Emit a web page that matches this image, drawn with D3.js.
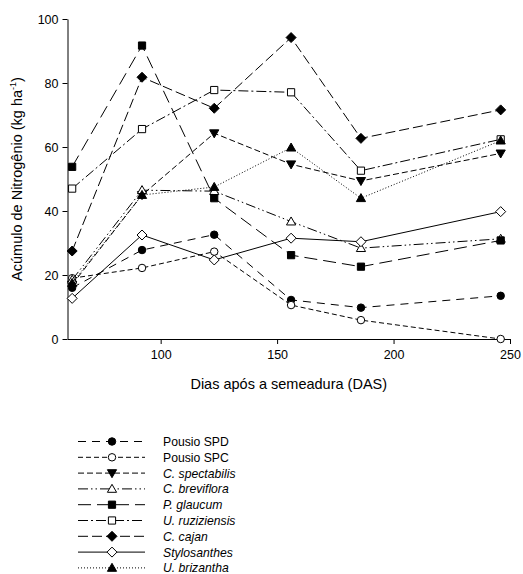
<!DOCTYPE html>
<html>
<head>
<meta charset="utf-8">
<script src="https://cdn.jsdelivr.net/npm/d3@7"></script>
<style>
  body { margin: 0; background: #fff; }
  text { font-family: "Liberation Sans", Arial, sans-serif; }
</style>
</head>
<body>
<div id="chart"></div>
<script>
// dias apos a semeadura
var das = [62, 92, 123, 156, 186, 246];

var seriesNames = ["Pousio SPD", "Pousio SPC", "C. spectabilis", "C. breviflora", "P. glaucum",
                   "U. ruziziensis", "C. cajan", "Stylosanthes", "U. brizantha"];
var pousioSPD     = [16, 27.8, 32.6, 12.2, 9.8, 13.5];
var pousioSPC     = [19, 22.2, 27.3, 10.6, 5.9, 0];
var spectabilis   = [17, 45, 64.3, 54.6, 49.4, 58];
var breviflora    = [18.5, 46.5, 46.2, 36.7, 28.4, 31.3];
var glaucum       = [53.8, 91.7, 44, 26.2, 22.6, 30.8];
var ruziziensis   = [47, 65.6, 77.8, 77.1, 52.6, 62.4];
var cajan         = [27.5, 81.8, 72.1, 94.2, 62.7, 71.6];
var stylosanthes  = [12.7, 32.5, 24.7, 31.5, 30.4, 39.8];
var brizantha     = [17.5, 45, 47.5, 59.8, 44, 62];

var xTicks = [100, 150, 200, 250];
var yTicks = [0, 20, 40, 60, 80, 100];

var values = [pousioSPD, pousioSPC, spectabilis, breviflora, glaucum, ruziziensis, cajan, stylosanthes, brizantha];
// symbol, filled, dasharray
var styles = [
  {sym: "circle",   fill: true,  dash: "8,6"},
  {sym: "circle",   fill: false, dash: "5,3"},
  {sym: "tridown",  fill: true,  dash: "6,3"},
  {sym: "triangle", fill: false, dash: "10,3,1.5,3,1.5,3"},
  {sym: "square",   fill: true,  dash: "13,6"},
  {sym: "square",   fill: false, dash: "10,3,2,3"},
  {sym: "diamond",  fill: true,  dash: "10,4"},
  {sym: "diamond",  fill: false, dash: null},
  {sym: "triangle", fill: true,  dash: "1,2"}
];
var italic = [false, false, true, true, true, true, true, true, true];

var series = seriesNames.map(function(n, i) {
  return {name: n, style: styles[i], italic: italic[i],
          pts: das.map(function(d, j) { return {x: d, y: values[i][j]}; })};
});

var W = 523, H = 574;
var margin = {top: 19, left: 67.5, right: 13, bottom: 235};

var svg = d3.select("#chart").append("svg")
    .attr("width", W).attr("height", H);

var x = d3.scaleLinear().domain([60, 250]).range([margin.left, W - margin.right]);
var y = d3.scaleLinear().domain([0, 100]).range([H - margin.bottom, margin.top]);

function symbolPath(s) {
  if (s === "circle") return d3.symbol().type(d3.symbolCircle).size(44)();
  if (s === "square") return "M-3.6,-3.6H3.6V3.6H-3.6Z";
  if (s === "diamond") return "M0,-5L5,0L0,5L-5,0Z";
  if (s === "triangle") return "M0,-4.6L4.6,3.4H-4.6Z";
  if (s === "tridown") return "M0,4.6L4.6,-3.4H-4.6Z";
  return "";
}

// axes
svg.append("g")
    .attr("transform", "translate(0," + y(0) + ")")
    .call(d3.axisBottom(x).tickValues(xTicks).tickSize(5).tickSizeOuter(0).tickPadding(6))
    .call(function(g) {
      g.select(".domain").attr("stroke", "#000");
      g.selectAll("text").attr("font-size", 12.5).attr("fill", "#000");
    });

svg.append("g")
    .attr("transform", "translate(" + margin.left + ",0)")
    .call(d3.axisLeft(y).tickValues(yTicks).tickSize(5).tickSizeOuter(0).tickPadding(4))
    .call(function(g) {
      g.select(".domain").attr("stroke", "#000");
      g.selectAll("text").attr("font-size", 12.5).attr("fill", "#000");
    });

svg.append("text")
    .attr("x", x(155)).attr("y", 389)
    .attr("text-anchor", "middle").attr("font-size", 14.5)
    .text("Dias após a semeadura (DAS)");

var yl = svg.append("text")
    .attr("transform", "translate(22," + y(50) + ") rotate(-90)")
    .attr("text-anchor", "middle").attr("font-size", 14.5);
yl.append("tspan").text("Acúmulo de Nitrogênio (kg ha");
yl.append("tspan").attr("font-size", 9).attr("dy", -6).text("-1");
yl.append("tspan").attr("dy", 6).text(")");

var line = d3.line().x(function(d) { return x(d.x); }).y(function(d) { return y(d.y); });

var g = svg.selectAll(".series").data(series).enter().append("g").attr("class", "series");

g.append("path")
    .attr("fill", "none")
    .attr("stroke", "#000")
    .attr("stroke-width", 1)
    .attr("stroke-dasharray", function(d) { return d.style.dash; })
    .attr("d", function(d) { return line(d.pts); });

g.selectAll(".pt").data(function(d) { return d.pts.map(function(p) { return {p: p, s: d.style}; }); })
  .enter().append("path")
    .attr("class", "pt")
    .attr("transform", function(d) { return "translate(" + x(d.p.x) + "," + y(d.p.y) + ")"; })
    .attr("d", function(d) { return symbolPath(d.s.sym); })
    .attr("fill", function(d) { return d.s.fill ? "#000" : "#fff"; })
    .attr("stroke", "#000")
    .attr("stroke-width", 1);

// legend
var leg = svg.append("g").attr("transform", "translate(78,441.5)");
var row = leg.selectAll(".row").data(series).enter().append("g")
    .attr("transform", function(d, i) { return "translate(0," + (i * 15.8) + ")"; });

row.append("line")
    .attr("x1", 0).attr("x2", 67).attr("y1", 0).attr("y2", 0)
    .attr("stroke", "#000")
    .attr("stroke-dasharray", function(d) { return d.style.dash; });

row.append("path")
    .attr("transform", "translate(34,0)")
    .attr("d", function(d) { return symbolPath(d.style.sym); })
    .attr("fill", function(d) { return d.style.fill ? "#000" : "#fff"; })
    .attr("stroke", "#000");

row.append("text")
    .attr("x", 85).attr("y", 4.5)
    .attr("font-size", 12.2)
    .attr("font-style", function(d) { return d.italic ? "italic" : "normal"; })
    .text(function(d) { return d.name; });
</script>
</body>
</html>
